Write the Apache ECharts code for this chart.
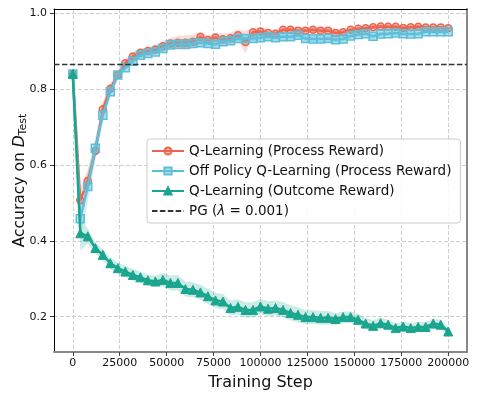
<!DOCTYPE html>
<html>
<head>
<meta charset="utf-8">
<script src="https://cdn.jsdelivr.net/npm/echarts@6/dist/echarts.min.js"></script>
<style>
html, body { margin: 0; padding: 0; background: #fff; }
#chart { width: 478px; height: 399px; }
</style>
</head>
<body>
<div id="chart"></div>
<script>
// training steps (x)
var steps = [0, 4000, 8000, 12000, 16000, 20000, 24000, 28000, 32000, 36000,
  40000, 44000, 48000, 52000, 56000, 60000, 64000, 68000, 72000, 76000,
  80000, 84000, 88000, 92000, 96000, 100000, 104000, 108000, 112000, 116000,
  120000, 124000, 128000, 132000, 136000, 140000, 144000, 148000, 152000, 156000,
  160000, 164000, 168000, 172000, 176000, 180000, 184000, 188000, 192000, 196000, 200000];

var qProcess = [0.84, 0.507, 0.558, 0.637, 0.747, 0.801, 0.837, 0.868, 0.886, 0.896,
  0.900, 0.904, 0.913, 0.920, 0.922, 0.922, 0.925, 0.937, 0.929, 0.936,
  0.931, 0.934, 0.942, 0.924, 0.950, 0.952, 0.948, 0.946, 0.956, 0.956,
  0.954, 0.954, 0.956, 0.954, 0.954, 0.948, 0.950, 0.956, 0.959, 0.960,
  0.963, 0.965, 0.964, 0.964, 0.961, 0.963, 0.964, 0.962, 0.962, 0.962, 0.960];
var qProcessSpread = [0, 0.03, 0.03, 0.025, 0.02, 0.015, 0.015, 0.012, 0.012, 0.01,
  0.01, 0.012, 0.015, 0.015, 0.018, 0.02, 0.018, 0.015, 0.012, 0.012,
  0.015, 0.015, 0.015, 0.03, 0.01, 0.01, 0.01, 0.01, 0.008, 0.008,
  0.008, 0.008, 0.008, 0.008, 0.008, 0.01, 0.008, 0.006, 0.006, 0.006,
  0.006, 0.006, 0.006, 0.006, 0.006, 0.006, 0.006, 0.006, 0.006, 0.006, 0.006];

var offPolicy = [0.84, 0.458, 0.543, 0.644, 0.731, 0.793, 0.837, 0.856, 0.873, 0.889,
  0.894, 0.898, 0.907, 0.916, 0.918, 0.918, 0.920, 0.922, 0.920, 0.918,
  0.925, 0.927, 0.933, 0.933, 0.933, 0.935, 0.938, 0.935, 0.938, 0.938,
  0.942, 0.933, 0.932, 0.932, 0.933, 0.930, 0.932, 0.940, 0.944, 0.946,
  0.939, 0.945, 0.946, 0.948, 0.946, 0.945, 0.946, 0.951, 0.951, 0.951, 0.951];
var offPolicySpread = [0, 0.05, 0.04, 0.03, 0.02, 0.012, 0.01, 0.008, 0.008, 0.008,
  0.008, 0.008, 0.008, 0.008, 0.008, 0.008, 0.008, 0.008, 0.008, 0.008,
  0.008, 0.008, 0.008, 0.008, 0.008, 0.008, 0.008, 0.008, 0.008, 0.008,
  0.008, 0.008, 0.008, 0.008, 0.008, 0.008, 0.007, 0.007, 0.007, 0.007,
  0.007, 0.006, 0.006, 0.006, 0.006, 0.006, 0.006, 0.006, 0.006, 0.006, 0.006];

var qOutcome = [0.84, 0.420, 0.412, 0.381, 0.363, 0.341, 0.328, 0.319, 0.310, 0.304,
  0.296, 0.293, 0.297, 0.289, 0.289, 0.273, 0.271, 0.264, 0.254, 0.243,
  0.240, 0.223, 0.226, 0.218, 0.218, 0.227, 0.221, 0.223, 0.218, 0.210,
  0.205, 0.199, 0.199, 0.197, 0.197, 0.194, 0.199, 0.199, 0.192, 0.182,
  0.176, 0.183, 0.179, 0.170, 0.174, 0.170, 0.173, 0.173, 0.182, 0.179, 0.161];
var qOutcomeSpread = [0, 0.045, 0.02, 0.015, 0.015, 0.015, 0.015, 0.015, 0.015, 0.015,
  0.015, 0.015, 0.018, 0.02, 0.02, 0.02, 0.02, 0.02, 0.02, 0.02,
  0.02, 0.02, 0.02, 0.02, 0.02, 0.02, 0.02, 0.02, 0.02, 0.02,
  0.02, 0.018, 0.018, 0.018, 0.018, 0.015, 0.015, 0.015, 0.015, 0.015,
  0.015, 0.015, 0.013, 0.013, 0.013, 0.013, 0.013, 0.013, 0.013, 0.013, 0.012];

var pgValue = 0.865;

var xTicks = [0, 25000, 50000, 75000, 100000, 125000, 150000, 175000, 200000];
var yTicks = [0.2, 0.4, 0.6, 0.8, 1.0];

var RED = '#EB6650', BLUE = '#5DBFD9', TEAL = '#1AA58E';

function pairs(ys) {
  return steps.map(function (s, i) { return [s, ys[i]]; });
}

// shaded band drawn as one polygon through the axis scales
function band(name, ys, spread, color) {
  return {
    type: 'custom',
    name: name + ' band',
    silent: true,
    z: 1,
    data: [[0, 0]],
    renderItem: function (params, api) {
      var pts = [];
      for (var i = 0; i < steps.length; i++) pts.push(api.coord([steps[i], ys[i] + spread[i]]));
      for (var j = steps.length - 1; j >= 0; j--) pts.push(api.coord([steps[j], ys[j] - spread[j]]));
      return { type: 'polygon', shape: { points: pts }, style: { fill: color } };
    }
  };
}

var chart = echarts.init(document.getElementById('chart'));

var fontTick = 11;
var option = {
  animation: false,
  textStyle: { fontFamily: 'DejaVu Sans' },
  grid: { left: 54, right: 11, top: 9, bottom: 47, outerBoundsMode: 'none', containLabel: false },
  legend: {
    left: 147, top: 139,
    orient: 'vertical',
    data: ['Q-Learning (Process Reward)', 'Off Policy Q-Learning (Process Reward)',
      'Q-Learning (Outcome Reward)', 'PG'],
    itemWidth: 32, itemHeight: 9, itemGap: 6,
    padding: [5, 9, 5, 4],
    backgroundColor: 'rgba(255,255,255,0.85)',
    borderColor: '#cccccc', borderWidth: 1, borderRadius: 3,
    textStyle: {
      fontFamily: 'DejaVu Sans', fontSize: 13.5, color: '#111', lineHeight: 14,
      rich: { i: { fontFamily: 'DejaVu Sans', fontStyle: 'italic', fontSize: 13.5 } }
    },
    formatter: function (n) { return n === 'PG' ? 'PG ({i|λ} = 0.001)' : n; }
  },
  xAxis: [{
    type: 'value', min: -10000, max: 210000,
    name: 'Training Step', nameLocation: 'middle', nameGap: 23,
    nameTextStyle: { fontSize: 16, color: '#111' },
    axisLine: { onZero: false, lineStyle: { color: '#888', width: 2 } },
    axisTick: { customValues: xTicks, length: 4, lineStyle: { color: '#444' } },
    axisLabel: { customValues: xTicks, fontSize: fontTick, color: '#111', margin: 6,
      hideOverlap: false, showMaxLabel: true, showMinLabel: true,
      formatter: function (v) { return String(v); } },
    splitLine: { show: true, lineStyle: { color: '#cfcfcf', type: [4, 2], width: 1 } }
  }, {
    type: 'value', min: -10000, max: 210000, position: 'top',
    axisLine: { onZero: false, lineStyle: { color: '#000', width: 1 } },
    axisTick: { show: false }, axisLabel: { show: false }, splitLine: { show: false }
  }],
  yAxis: [{
    type: 'value', min: 0.107, max: 1.011,
    name: 'Accuracy on {i|D}{s|Test}', nameLocation: 'middle', nameGap: 25, nameRotate: 90,
    nameMoveOverlap: false,
    nameTextStyle: {
      fontSize: 15.5, color: '#111',
      rich: {
        i: { fontSize: 15.5, fontStyle: 'italic', color: '#111' },
        s: { fontSize: 11, color: '#111', padding: [8, 0, 0, 0] }
      }
    },
    axisLine: { show: true, onZero: false, lineStyle: { color: '#000', width: 1 } },
    axisTick: { show: true, customValues: yTicks, length: 4, lineStyle: { color: '#333' } },
    axisLabel: { customValues: yTicks, fontSize: fontTick, color: '#111', margin: 7,
      formatter: function (v) { return v.toFixed(1); } },
    splitLine: { show: true, lineStyle: { color: '#cfcfcf', type: [4, 2], width: 1 } }
  }, {
    type: 'value', min: 0.107, max: 1.011, position: 'right',
    axisLine: { show: true, onZero: false, lineStyle: { color: '#888', width: 2 } },
    axisTick: { show: false }, axisLabel: { show: false }, splitLine: { show: false }
  }],
  series: [
    band('Q-Learning (Process Reward)', qProcess, qProcessSpread, 'rgba(235,102,80,0.22)'),
    band('Off Policy Q-Learning (Process Reward)', offPolicy, offPolicySpread, 'rgba(93,191,217,0.28)'),
    band('Q-Learning (Outcome Reward)', qOutcome, qOutcomeSpread, 'rgba(26,165,142,0.22)'),
    {
      type: 'line', name: 'Q-Learning (Process Reward)', data: pairs(qProcess), z: 3,
      symbol: 'circle', symbolSize: 7,
      lineStyle: { color: RED, width: 2.5 },
      itemStyle: { color: 'rgba(235,102,80,0.45)', borderColor: RED, borderWidth: 1.5 }
    },
    {
      type: 'line', name: 'Off Policy Q-Learning (Process Reward)', data: pairs(offPolicy), z: 4,
      symbol: 'rect', symbolSize: 8,
      lineStyle: { color: BLUE, width: 2.5 },
      itemStyle: { color: 'rgba(93,191,217,0.45)', borderColor: BLUE, borderWidth: 1.5 }
    },
    {
      type: 'line', name: 'Q-Learning (Outcome Reward)', data: pairs(qOutcome), z: 5,
      symbol: 'triangle', symbolSize: 9,
      lineStyle: { color: TEAL, width: 2.5 },
      itemStyle: { color: TEAL, borderColor: TEAL, borderWidth: 1 }
    },
    {
      type: 'line', name: 'PG', data: [[-10000, pgValue], [210000, pgValue]], z: 6,
      symbol: 'none',
      lineStyle: { color: '#333', width: 1.5, type: [5.5, 2.4] },
      itemStyle: { color: '#333', opacity: 0 }
    }
  ]
};

chart.setOption(option);
window.onresize = function () { chart.resize(); };
</script>
</body>
</html>
